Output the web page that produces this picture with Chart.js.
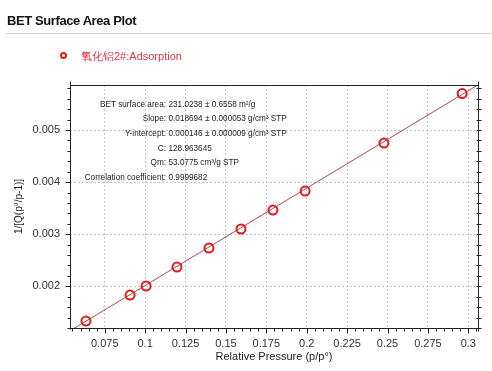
<!DOCTYPE html>
<html>
<head>
<meta charset="utf-8">
<script src="https://cdn.jsdelivr.net/npm/chart.js@4.4.0/dist/chart.umd.min.js"></script>
<style>
    body { margin: 0; background: #fff; font-family: "Liberation Sans", Arial, sans-serif; }
    #wrap { position: relative; width: 492px; height: 371px; overflow: hidden; }
    #betChart { position: absolute; left: 0; top: 0; }
    .title { position: absolute; left: 7px; top: 14px; font-size: 13px; line-height: 13px; font-weight: bold; color: #111; letter-spacing: -0.4px; }
    .rule { position: absolute; left: 6px; top: 33px; width: 486px; height: 1px; background: #d4d4d4; }
    .legend { position: absolute; left: 60px; top: 51px; font-size: 11px; line-height: 11px; color: #d9363e; white-space: nowrap; }
    .legend .dot { display: inline-block; width: 3px; height: 3px; border: 2px solid #e31a1c; border-radius: 50%; margin-right: 14px; vertical-align: 1px; }
</style>
</head>
<body>
<div id="wrap">
    <canvas id="betChart" width="492" height="371"></canvas>
    <div class="title">BET Surface Area Plot</div>
    <div class="rule"></div>
    <div class="legend"><span class="dot"></span>氧化铝2#:Adsorption</div>
</div>
<script>
// measured points (p/p0 vs 1/[Q(p0/p-1)])
var pressure = [0.0634, 0.0907, 0.1006, 0.1197, 0.1395, 0.1593, 0.1791, 0.1990, 0.2478, 0.2962];
var betValue = [0.001334, 0.001833, 0.002006, 0.002370, 0.002735, 0.003100, 0.003464, 0.003829, 0.004750, 0.005700];

// fit result
var slope = 0.018694;
var intercept = 0.000146;
var fitLabels = ['BET surface area:', 'Slope:', 'Y-intercept:', 'C:', 'Qm:', 'Correlation coefficient:'];
var fitValues = ['231.0238 ± 0.6558 m²/g', '0.018694 ± 0.000053 g/cm³ STP', '0.000146 ± 0.000009 g/cm³ STP',
    '128.963645', '53.0775 cm³/g STP', '0.9999682'];

var xTickLabels = [0.075, 0.1, 0.125, 0.15, 0.175, 0.2, 0.225, 0.25, 0.275, 0.3];
var yTickLabels = [0.002, 0.003, 0.004, 0.005];
var xMin = 0.0535, xMax = 0.306;
var yMin = 0.0012, yMax = 0.005864;

var points = pressure.map(function (p, i) { return { x: p, y: betValue[i] }; });
var fitLine = [xMin, xMax].map(function (x) { return { x: x, y: intercept + slope * x }; });

function steps(from, to, step) {
    var out = [];
    for (var i = Math.ceil(from / step - 1e-6); i * step <= to + 1e-9; i++) out.push(+(i * step).toFixed(6));
    return out;
}

var FONT = '"Liberation Sans", Arial, sans-serif';

// box, tick marks, y title and fit text
var framePlugin = {
    id: 'frame',
    afterDraw: function (chart) {
        var ctx = chart.ctx, a = chart.chartArea;
        var xs = chart.scales.x, ys = chart.scales.y;
        ctx.save();
        ctx.strokeStyle = '#222';
        ctx.lineWidth = 1;
        ctx.beginPath();
        var L = Math.round(a.left) + 0.5, R = Math.round(a.right) + 0.5;
        var T = Math.round(a.top) + 0.5, B = Math.round(a.bottom) + 0.5;
        ctx.moveTo(L, T - 4); ctx.lineTo(L, B + 1);
        ctx.moveTo(L - 2, B); ctx.lineTo(R + 1, B);
        ctx.moveTo(L, T); ctx.lineTo(R, T);
        ctx.moveTo(R, T - 4); ctx.lineTo(R, B + 3);
        steps(yMin, yMax, 0.0002).forEach(function (v) {
            var y = Math.round(ys.getPixelForValue(v)) + 0.5;
            var major = Math.abs(v / 0.001 - Math.round(v / 0.001)) < 1e-6;
            ctx.moveTo(L, y); ctx.lineTo(L - (major ? 5 : 3), y);
            ctx.moveTo(R - 2, y); ctx.lineTo(R + 3, y);
        });
        steps(xMin, xMax, 0.005).forEach(function (v) {
            var x = Math.round(xs.getPixelForValue(v)) + 0.5;
            var major = Math.abs(v / 0.025 - Math.round(v / 0.025)) < 1e-6;
            ctx.moveTo(x, B); ctx.lineTo(x, B + (major ? 5 : 3));
        });
        ctx.stroke();

        // y axis title
        ctx.fillStyle = '#222';
        ctx.font = '10px ' + FONT;
        ctx.textAlign = 'center';
        ctx.textBaseline = 'middle';
        ctx.translate(19, (a.top + a.bottom) / 2);
        ctx.rotate(-Math.PI / 2);
        ctx.fillText('1/[Q(p°/p-1)]', 0, 0);
        ctx.restore();

        // fit summary
        ctx.save();
        ctx.font = '8.2px ' + FONT;
        ctx.fillStyle = '#222';
        ctx.textBaseline = 'middle';
        fitLabels.forEach(function (lab, i) {
            var y = a.top + 19.5 + i * 14.6;
            ctx.textAlign = 'right';
            ctx.fillText(lab, a.left + 96, y);
            ctx.textAlign = 'left';
            ctx.fillText(fitValues[i], a.left + 98.5, y);
        });
        ctx.restore();
    }
};

var ctx = document.getElementById('betChart').getContext('2d');
var betChart = new Chart(ctx, {
    type: 'scatter',
    data: {
        datasets: [{
            label: '氧化铝2#:Adsorption',
            data: points,
            showLine: false,
            pointRadius: 4.5,
            pointBorderWidth: 2,
            pointBorderColor: '#e31a1c',
            pointBackgroundColor: 'rgba(255,255,255,0)'
        }, {
            label: 'fit',
            data: fitLine,
            showLine: true,
            pointRadius: 0,
            borderColor: '#a84a4a',
            borderWidth: 1
        }]
    },
    options: {
        responsive: false,
        devicePixelRatio: 1,
        animation: false,
        layout: { padding: { top: 85, right: 14, left: 0, bottom: 0 } },
        plugins: {
            legend: { display: false },
            tooltip: { enabled: false }
        },
        scales: {
            x: {
                type: 'linear',
                min: xMin,
                max: xMax,
                afterFit: function (s) { s.height = 43; },
                afterBuildTicks: function (s) { s.ticks = xTickLabels.map(function (v) { return { value: v }; }); },
                grid: { color: '#c4c4c4', drawTicks: false },
                border: { display: false, dash: [2, 2] },
                ticks: {
                    padding: 9,
                    color: '#333',
                    font: { size: 11, family: FONT },
                    autoSkip: false,
                    maxRotation: 0,
                    callback: function (v) { return String(+v.toFixed(3)); }
                },
                title: {
                    display: true,
                    text: 'Relative Pressure (p/p°)',
                    color: '#222',
                    font: { size: 11, family: FONT },
                    padding: { top: 3, bottom: 7 }
                }
            },
            y: {
                type: 'linear',
                min: yMin,
                max: yMax,
                afterFit: function (s) { s.width = 70; },
                afterBuildTicks: function (s) { s.ticks = yTickLabels.map(function (v) { return { value: v }; }); },
                grid: { color: '#c4c4c4', drawTicks: false },
                border: { display: false, dash: [2, 2] },
                ticks: {
                    padding: 10,
                    color: '#333',
                    font: { size: 11, family: FONT },
                    callback: function (v) { return String(+v.toFixed(3)); }
                }
            }
        }
    },
    plugins: [framePlugin]
});
</script>
</body>
</html>
